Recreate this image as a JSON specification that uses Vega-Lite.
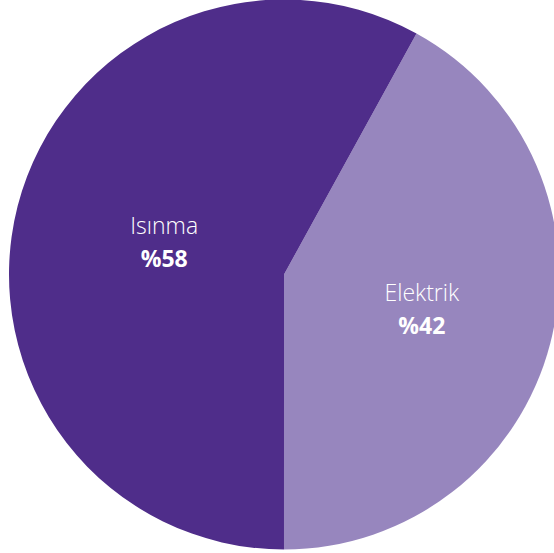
{
  "$schema": "https://vega.github.io/schema/vega-lite/v6.json",
  "autosize": "none",
  "width": 540,
  "height": 549,
  "padding": {"left": 14, "top": 0, "right": 0, "bottom": 4},
  "background": "white",
  "view": {"stroke": null},
  "data": {
    "values": [
      {"category": "Elektrik", "value": 42, "pct": "%42"},
      {"category": "Isınma", "value": 58, "pct": "%58"}
    ]
  },
  "encoding": {
    "theta": {"field": "value", "type": "quantitative", "stack": true, "scale": {"range": [0.5027, 6.7859]}},
    "order": {"field": "category", "sort": "ascending"}
  },
  "layer": [
    {
      "mark": {"type": "arc", "outerRadius": 275},
      "encoding": {
        "color": {"field": "category", "type": "nominal", "legend": null,
          "scale": {"domain": ["Elektrik", "Isınma"], "range": ["#9786be", "#4f2d8a"]}}
      }
    },
    {
      "mark": {"type": "text", "radius": 133, "dx": 9, "dy": -14, "font": "Open Sans", "fontWeight": 300, "fontSize": 23, "color": "white"},
      "encoding": {"text": {"field": "category"}}
    },
    {
      "mark": {"type": "text", "radius": 133, "dx": 9, "dy": 19, "font": "Open Sans", "fontWeight": "bold", "fontSize": 23, "color": "white"},
      "encoding": {"text": {"field": "pct"}}
    }
  ]
}
